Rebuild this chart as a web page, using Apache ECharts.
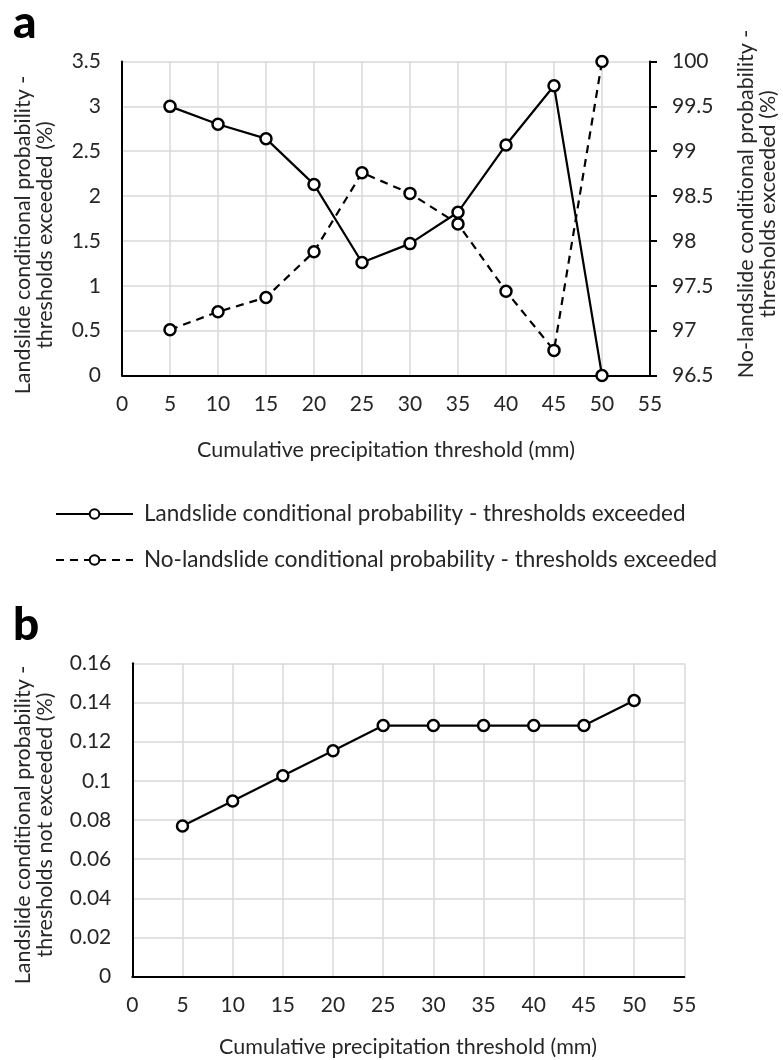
<!DOCTYPE html>
<html>
<head>
<meta charset="utf-8">
<script src="https://cdn.jsdelivr.net/npm/echarts@6/dist/echarts.min.js"></script>
<style>
  html, body { margin: 0; padding: 0; background: #fff; }
  #chart { width: 783px; height: 1060px; }
</style>
</head>
<body>
<div id="chart"></div>
<script>
// precipitation thresholds (mm)
const thresholds = [5, 10, 15, 20, 25, 30, 35, 40, 45, 50];
// panel a
const landslideExceeded = [3.0, 2.8, 2.64, 2.13, 1.26, 1.47, 1.82, 2.57, 3.23, 0];
const noLandslideExceeded = [97.01, 97.21, 97.37, 97.88, 98.76, 98.53, 98.19, 97.44, 96.78, 100];
// panel b
const landslideNotExceeded = [0.0769, 0.0897, 0.1026, 0.1154, 0.1282, 0.1282, 0.1282, 0.1282, 0.1282, 0.141];

const nameA1 = 'Landslide conditional probability - thresholds exceeded';
const nameA2 = 'No-landslide conditional probability - thresholds exceeded';
const nameB = 'Landslide conditional probability - thresholds not exceeded';

const FONT = 'Lato';
const TXT = '#262626';
const GRID_LINE = '#d9d9d9';

const pairs = (ys) => thresholds.map((x, i) => [x, ys[i]]);

const chart = echarts.init(document.getElementById('chart'), null, { renderer: 'canvas' });

// x axis shared style
function xAxisCfg(gridIndex) {
  return {
    type: 'value', gridIndex, min: 0, max: 55, interval: 5,
    axisLine: { show: true, lineStyle: { color: '#000', width: 2 } },
    axisTick: { show: false },
    axisLabel: { color: TXT, fontFamily: FONT, fontSize: 21, margin: 18 },
    splitLine: { show: true, lineStyle: { color: GRID_LINE, width: 1.5 } },
  };
}

const lineSerie = (name, data, xi, yi, dashed) => ({
  name, type: 'line', xAxisIndex: xi, yAxisIndex: yi, data,
  symbol: 'circle', symbolSize: 11, clip: false,
  itemStyle: { color: '#fff', borderColor: '#000', borderWidth: 2.5 },
  lineStyle: { color: '#000', width: 2.2, type: dashed ? [8, 6] : 'solid' },
  emphasis: { disabled: true },
  z: dashed ? 3 : 4,
});

const titleText = (text, x, y, rotate) => ({
  type: 'text', x, y, rotation: rotate ? Math.PI / 2 : 0,
  style: {
    text, fill: TXT, font: `21.5px ${FONT}`, lineHeight: 22,
    align: 'center', verticalAlign: 'middle',
  },
});

const legendCfg = (name, top) => ({
  data: [name], left: 55, top, padding: 0,
  itemWidth: 77, itemHeight: 12, itemGap: 0,
  textStyle: { color: TXT, fontFamily: FONT, fontSize: 22.5, lineHeight: 24, padding: [0, 0, 0, 6] },
});

const option = {
  animation: false,
  grid: [
    { left: 122, top: 61.5, width: 528, height: 314 },
    { left: 132.3, top: 663.3, width: 552, height: 313.4 },
  ],
  xAxis: [xAxisCfg(0), xAxisCfg(1)],
  yAxis: [
    {
      type: 'value', gridIndex: 0, min: 0, max: 3.5, interval: 0.5,
      axisLine: { show: true, lineStyle: { color: '#000', width: 2 } },
      axisTick: { show: false },
      axisLabel: { color: TXT, fontFamily: FONT, fontSize: 21, margin: 21 },
      splitLine: { show: true, lineStyle: { color: GRID_LINE, width: 1.5 } },
    },
    {
      type: 'value', gridIndex: 0, position: 'right', min: 96.5, max: 100, interval: 0.5,
      axisLine: { show: true, lineStyle: { color: '#000', width: 2 } },
      axisTick: { show: true, length: 7, lineStyle: { color: '#000', width: 2 } },
      axisLabel: { color: TXT, fontFamily: FONT, fontSize: 21, margin: 22 },
      splitLine: { show: false },
    },
    {
      type: 'value', gridIndex: 1, min: 0, max: 0.16, interval: 0.02,
      axisLine: { show: true, lineStyle: { color: '#000', width: 2 } },
      axisTick: { show: false },
      axisLabel: { color: TXT, fontFamily: FONT, fontSize: 21, margin: 21 },
      splitLine: { show: true, lineStyle: { color: GRID_LINE, width: 1.5 } },
    },
  ],
  legend: [legendCfg(nameA1, 502), legendCfg(nameA2, 548)],
  graphic: [
    { type: 'text', x: 13, y: 23, style: { text: 'a', fill: '#000', font: `900 46px ${FONT}`, verticalAlign: 'middle' } },
    { type: 'text', x: 13, y: 625, style: { text: 'b', fill: '#000', font: `900 46px ${FONT}`, verticalAlign: 'middle' } },
    titleText('Landslide conditional probability -\nthresholds exceeded (%)', 34, 235, true),
    titleText('No-landslide conditional probability -\nthresholds exceeded (%)', 757, 204, true),
    titleText('Cumulative precipitation threshold (mm)', 386, 450, false),
    titleText('Landslide conditional probability -\nthresholds not exceeded (%)', 34, 825, true),
    titleText('Cumulative precipitation threshold (mm)', 408, 1047, false),
  ],
  series: [
    lineSerie(nameA1, pairs(landslideExceeded), 0, 0, false),
    lineSerie(nameA2, pairs(noLandslideExceeded), 0, 1, true),
    lineSerie(nameB, pairs(landslideNotExceeded), 1, 2, false),
  ],
};

chart.setOption(option);
</script>
</body>
</html>
